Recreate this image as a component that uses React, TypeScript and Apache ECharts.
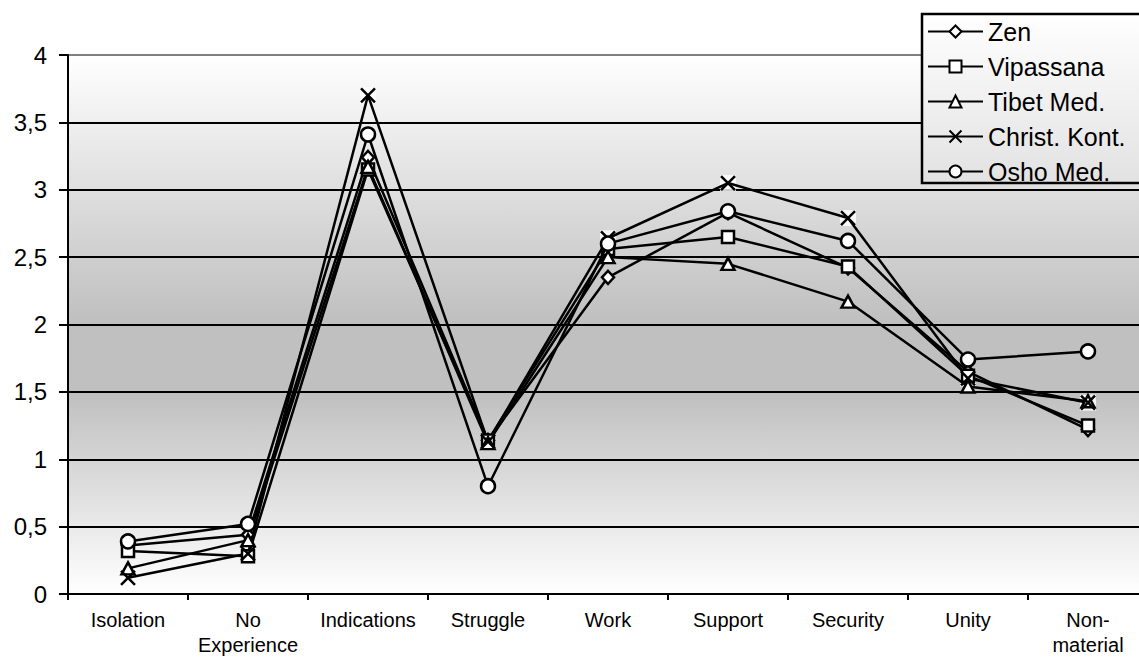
import React, { useEffect, useRef } from "react";
import * as echarts from "echarts";

const categories = ["Isolation", "No\nExperience", "Indications", "Struggle", "Work", "Support", "Security", "Unity", "Non-\nmaterial"];
const zen = [0.36, 0.44, 3.24, 1.14, 2.35, 2.83, 2.42, 1.65, 1.22];
const vipassana = [0.32, 0.28, 3.15, 1.14, 2.56, 2.65, 2.43, 1.62, 1.25];
const tibet = [0.19, 0.40, 3.17, 1.12, 2.50, 2.45, 2.17, 1.54, 1.43];
const christ = [0.12, 0.30, 3.70, 1.13, 2.64, 3.05, 2.79, 1.60, 1.42];
const osho = [0.39, 0.52, 3.41, 0.80, 2.60, 2.84, 2.62, 1.74, 1.80];
const yTicks = [0, 0.5, 1, 1.5, 2, 2.5, 3, 3.5, 4];

const FONT = "'Liberation Sans', Arial, sans-serif";

export default function App() {
  const ref = useRef<HTMLDivElement>(null);
  useEffect(() => {
    document.body.style.margin = "0";
    const chart = echarts.init(ref.current!, null, { renderer: "svg" });
    const mk = (name: string, data: number[], symbol: string, size: number | number[]) => ({
      name,
      type: "line",
      data,
      symbol,
      symbolSize: size,
      showSymbol: true,
      lineStyle: { color: "#000", width: 2.5 },
      itemStyle: { color: "#fff", borderColor: "#000", borderWidth: 2.5 },
      emphasis: { disabled: true },
    });
    const xPath = "path://M0,0 L10,10 M10,0 L0,10";
    chart.setOption({
      animation: false,
      textStyle: { fontFamily: FONT },
      grid: {
        left: 68,
        top: 55,
        right: 52,
        bottom: 68,
        show: true,
        borderWidth: 0,
        backgroundColor: new echarts.graphic.LinearGradient(0, 0, 0, 1, [
          { offset: 0, color: "#ffffff" },
          { offset: 0.49, color: "#c0c0c0" },
          { offset: 0.63, color: "#c0c0c0" },
          { offset: 1, color: "#ffffff" },
        ]),
      },
      graphic: [
        {
          type: "rect",
          z: 3.5,
          shape: { x: 922, y: 14, width: 300, height: 169 },
          style: {
            fill: new echarts.graphic.LinearGradient(0, 0, 0, 1, [
              { offset: 0, color: "#ffffff" },
              { offset: 1, color: "#e2e2e2" },
            ]),
            stroke: "#000",
            lineWidth: 2.5,
          },
          silent: true,
        },
      ],
      legend: {
        orient: "vertical",
        left: 921,
        top: 13,
        z: 5,
        padding: [6, 10, 1, 6],
        itemGap: 10,
        itemWidth: 55,
        itemHeight: 15,
        itemTextGap: 5,
        borderWidth: 0,
        textStyle: { fontSize: 25, color: "#000", fontFamily: FONT, lineHeight: 24 },
        data: ["Zen", "Vipassana", "Tibet Med.", "Christ. Kont.", "Osho Med."],
      },
      xAxis: {
        type: "category",
        data: categories,
        boundaryGap: true,
        axisLine: { lineStyle: { color: "#000", width: 2 } },
        axisTick: { show: true, length: 6, lineStyle: { color: "#000", width: 2 } },
        axisLabel: { color: "#000", fontSize: 20, fontFamily: FONT, lineHeight: 25, margin: 13, interval: 0 },
        splitLine: { show: false },
      },
      yAxis: {
        type: "value",
        min: yTicks[0],
        max: yTicks[yTicks.length - 1],
        interval: 0.5,
        axisLine: { show: true, lineStyle: { color: "#000", width: 2 } },
        axisTick: { show: true, length: 9, lineStyle: { color: "#000", width: 2 } },
        axisLabel: {
          color: "#000",
          fontSize: 24,
          fontFamily: FONT,
          margin: 21,
          formatter: (v: number) => String(v).replace(".", ","),
        },
        splitLine: {
          show: true,
          lineStyle: {
            width: 2,
            color: ["#000", "#000", "#000", "#000", "#000", "#000", "#000", "#000", "#808080"],
          },
        },
      },
      series: [
        mk("Zen", zen, "diamond", [12, 13]),
        mk("Vipassana", vipassana, "rect", 12),
        mk("Tibet Med.", tibet, "triangle", [13, 12]),
        {
          name: "Christ. Kont. bg",
          type: "scatter",
          data: christ,
          symbol: "rect",
          symbolSize: 16,
          itemStyle: { color: "#fff" },
          z: 2,
          silent: true,
        },
        { ...mk("Christ. Kont.", christ, xPath, 14), z: 3 },
        { ...mk("Osho Med.", osho, "circle", 14), z: 4 },
      ],
    });
    return () => chart.dispose();
  }, []);
  return (
    <div style={{ position: "absolute", left: 0, top: 0, width: 1139, height: 662, overflow: "hidden" }}>
      <div ref={ref} style={{ width: 1200, height: 662 }} />
    </div>
  );
}
